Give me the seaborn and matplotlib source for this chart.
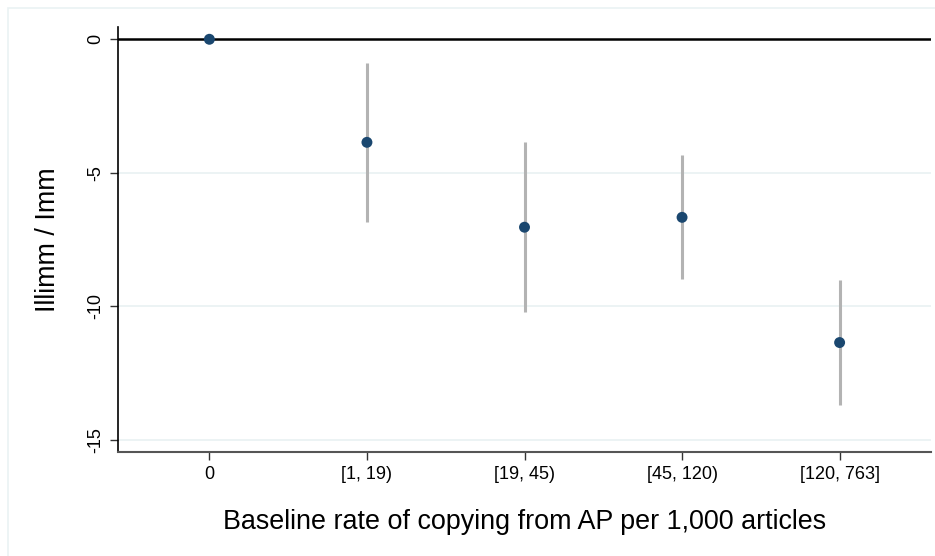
import matplotlib
matplotlib.use("Agg")
import matplotlib.pyplot as plt
import seaborn as sns
import pandas as pd
from matplotlib.patches import Rectangle

categories = ["0", "[1, 19)", "[19, 45)", "[45, 120)", "[120, 763]"]
estimate = [0.0, -3.86, -7.04, -6.67, -11.36]
ci_low = [0.0, -6.83, -10.20, -8.99, -13.70]
ci_high = [0.0, -0.89, -3.86, -4.33, -9.03]
yticks = [0, -5, -10, -15]

df = pd.DataFrame({"cat": categories, "est": estimate})

sns.set_theme(style="white")
plt.rcParams["font.family"] = ["Liberation Sans", "DejaVu Sans"]
plt.rcParams["text.color"] = "black"
plt.rcParams["axes.labelcolor"] = "black"
plt.rcParams["xtick.color"] = "black"
plt.rcParams["ytick.color"] = "black"

fig = plt.figure(figsize=(9.35, 5.56), dpi=100)
# outer light frame (Stata graph region)
fig.patches.append(Rectangle((8 / 935, -0.1), 1.2, (556 - 8) / 556 + 0.1,
                             transform=fig.transFigure, fill=False,
                             edgecolor="#eaf2f3", linewidth=1.2, zorder=0))
ax = fig.add_axes([118 / 935, (556 - 452) / 556, (931 - 118) / 935, (452 - 27) / 556])

# gridlines
for t in yticks[1:]:
    ax.axhline(t, color="#eaf2f3", linewidth=1.3, zorder=0)
ax.axhline(0, color="black", linewidth=1.8, zorder=1)

pos = list(range(len(categories)))
ax.vlines(pos[1:], ci_low[1:], ci_high[1:], color="#b3b3b3", linewidth=2.2, zorder=2)

sns.scatterplot(data=df, x=pos, y="est", ax=ax, color="#1a476f", s=62,
                edgecolor="none", zorder=3, legend=False)

ax.set_xlim(-0.58, 4.58)
ax.set_ylim(-15.46, 0.46)
ax.set_xticks(pos)
ax.set_xticklabels(categories, fontsize=13, color="black")
ax.set_yticks(yticks)
ax.set_yticklabels([str(t) for t in yticks], fontsize=13, rotation=90, va="center",
                   color="black")

for side in ["top", "right"]:
    ax.spines[side].set_visible(False)
ax.spines["left"].set_color("black")
ax.spines["left"].set_linewidth(1.2)
ax.spines["bottom"].set_color("#555555")
ax.spines["bottom"].set_linewidth(1.5)
ax.tick_params(axis="both", which="both", length=6, width=1, color="#333333",
               left=True, bottom=True, pad=4)

ax.set_xlabel("Baseline rate of copying from AP per 1,000 articles", fontsize=19.4,
              labelpad=19, color="black")
ax.set_ylabel("Illimm / Imm", fontsize=19.4, labelpad=19, color="black")

fig.savefig("out.png", dpi=100)
